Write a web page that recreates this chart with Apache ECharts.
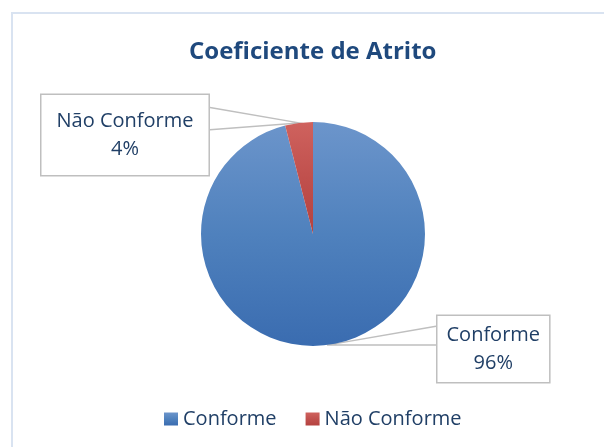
<!DOCTYPE html>
<html>
<head>
<meta charset="utf-8">
<script src="https://cdn.jsdelivr.net/npm/echarts@6/dist/echarts.min.js"></script>
<style>
  html, body { margin: 0; padding: 0; background: #ffffff; }
  #chart { width: 604px; height: 447px; }
</style>
</head>
<body>
<div id="chart"></div>
<script>
// Categories and shares (percent)
const categories = ['Conforme', 'Não Conforme'];
const shares = [96, 4];
const sliceColors = [
  ['#6c95cb', '#4f81bd', '#3a6cb0'],
  ['#cf625e', '#c0504d', '#b5423f']
];
// Callout box placement (top-left corner) for each category
const calloutPos = [[436, 316], [40, 95]];
const calloutPadding = [[5, 9], [12, 15]];

const textColor = '#203f66';
const font = '"Open Sans", sans-serif';

function grad(c) {
  return {
    type: 'linear', x: 0, y: 0, x2: 0, y2: 1,
    colorStops: [
      { offset: 0, color: c[0] },
      { offset: 0.5, color: c[1] },
      { offset: 1, color: c[2] }
    ]
  };
}

const chart = echarts.init(document.getElementById('chart'), null, { renderer: 'canvas' });

const seriesData = categories.map((name, i) => ({
  name: name,
  value: shares[i],
  itemStyle: { color: grad(sliceColors[i]) },
  label: { padding: calloutPadding[i] }
}));

chart.setOption({
  animation: false,
  graphic: [{
    type: 'rect',
    silent: true,
    shape: { x: 12, y: 13, width: 700, height: 500 },
    style: { fill: 'none', stroke: '#d9e3f1', lineWidth: 2 }
  }],
  title: {
    text: 'Coeficiente de Atrito',
    left: 184,
    top: 35,
    textStyle: { fontFamily: font, fontWeight: 'bold', fontSize: 24, color: '#1f497d' }
  },
  legend: {
    top: 409,
    left: 164,
    padding: 0,
    icon: 'rect',
    itemWidth: 14,
    itemHeight: 13,
    itemGap: 29,
    textStyle: { fontFamily: font, fontSize: 20, color: textColor },
    data: categories
  },
  series: [{
    type: 'pie',
    center: [313, 234],
    radius: ['0%', 112],
    startAngle: 90,
    clockwise: true,
    data: seriesData,
    label: {
      show: true,
      formatter: '{b}\n{d}%',
      fontFamily: font,
      fontSize: 20,
      lineHeight: 28,
      color: textColor,
      align: 'center',
      backgroundColor: '#ffffff',
      borderColor: '#bfbfbf',
      borderWidth: 1.5
    },
    labelLine: {
      show: true,
      lineStyle: { color: '#bfbfbf', width: 1.5 }
    },
    labelLayout: function (params) {
      const i = params.dataIndex;
      const r = params.labelRect;
      const x = calloutPos[i][0];
      const y = calloutPos[i][1];
      const tip = params.labelLinePoints ? params.labelLinePoints[0] : [x, y];
      // wedge base on the box side facing the slice
      const sideX = tip[0] > x + r.width ? x + r.width : x;
      const base1 = [sideX, y + 0.15 * r.height];
      const base2 = [sideX, y + 0.42 * r.height];
      return {
        x: x + r.width / 2,
        y: y,
        align: 'center',
        verticalAlign: 'top',
        labelLinePoints: [base1, tip, base2]
      };
    }
  }]
});
</script>
</body>
</html>
